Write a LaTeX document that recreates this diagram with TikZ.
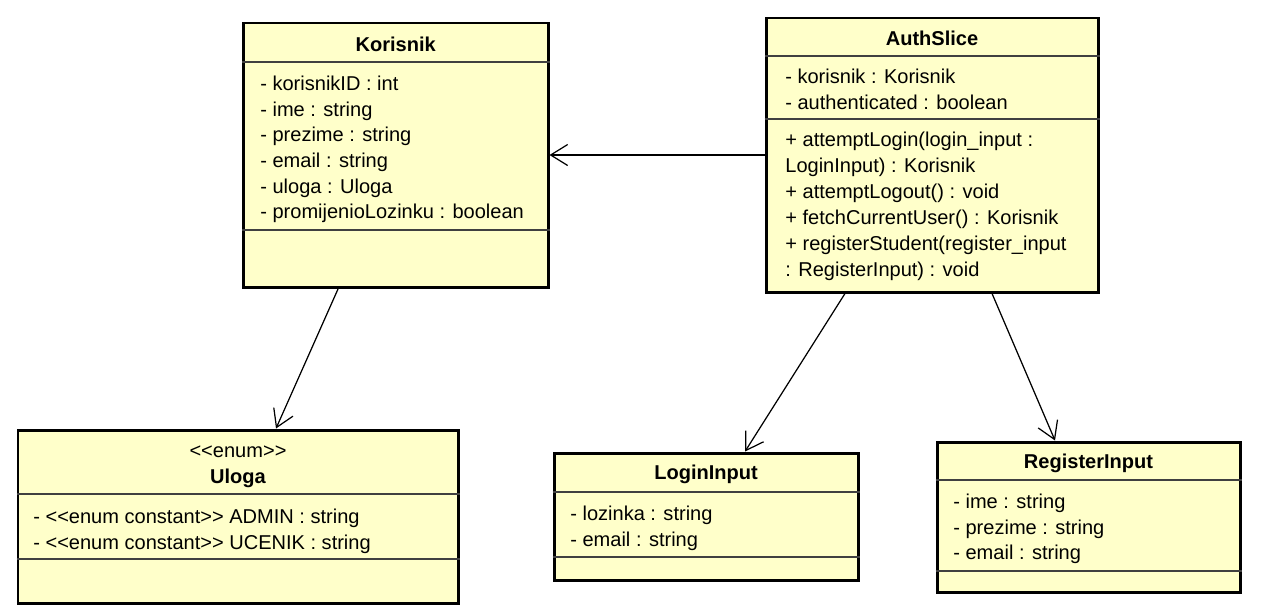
\documentclass[tikz,border=0pt]{standalone}
\usepackage{fontspec}
\setmainfont{Liberation Sans}
\usepackage{tikz}
\usepackage{color}
\usetikzlibrary{arrows.meta}
\usetikzlibrary{positioning,calc}
\definecolor{umlFill}{RGB}{255,255,202}
\tikzset{classBox/.style={rectangle,draw,line width=1.7pt,fill=umlFill,inner sep=0pt},
		classTitle/.style={inner sep=0pt,font=\fontsize{11.4}{14.6}\selectfont\bfseries},
		classStereo/.style={inner sep=0pt,font=\fontsize{11.4}{14.6}\selectfont},
		classText/.style={inner sep=0pt,anchor=north west,align=left,font=\fontsize{11.4}{14.6}\selectfont},
		classTextWide/.style={classText,font=\fontsize{11.4}{14.75}\selectfont},
		sepLine/.style={line width=0.6pt,color=black!75},
		assoc/.style={-{Straight Barb[length=3.4mm,width=4.2mm]},line width=0.7pt}}

\begin{document}
\begin{tikzpicture}[x=0.2mm,y=-0.2mm]
		\useasboundingbox (0,0) rectangle (1262,614);
		% class boxes
		\node at (395.75,155) [classBox,minimum width=6.09cm,minimum height=5.28cm] (Kor){};
		\node at (932,155) [classBox,minimum width=6.64cm,minimum height=5.48cm] (Auth){};
		\node at (238,516.5) [classBox,minimum width=8.8cm,minimum height=3.46cm] (Ulo){};
		\node at (706,516.5) [classBox,minimum width=6.08cm,minimum height=2.54cm] (Login){};
		\node at (1088.5,517) [classBox,minimum width=6.06cm,minimum height=3cm] (Reg){};

		% compartments
		\draw[sepLine] (Kor.west |- 0,62) -- (Kor.east |- 0,62);
		\draw[sepLine] (Kor.west |- 0,230) -- (Kor.east |- 0,230);
		\draw[sepLine] (Auth.west |- 0,56) -- (Auth.east |- 0,56);
		\draw[sepLine] (Auth.west |- 0,119) -- (Auth.east |- 0,119);
		\draw[sepLine] (Ulo.west |- 0,494) -- (Ulo.east |- 0,494);
		\draw[sepLine] (Ulo.west |- 0,559) -- (Ulo.east |- 0,559);
		\draw[sepLine] (Login.west |- 0,492) -- (Login.east |- 0,492);
		\draw[sepLine] (Login.west |- 0,557) -- (Login.east |- 0,557);
		\draw[sepLine] (Reg.west |- 0,480) -- (Reg.east |- 0,480);
		\draw[sepLine] (Reg.west |- 0,571) -- (Reg.east |- 0,571);

		% names and members
		\node at (395.75,44) [classTitle] (KorT){Korisnik};
		\node at (260,75.5) [classText] (KorA){- korisnikID : int\\- ime : string\\- prezime : string\\- email : string\\- uloga : Uloga\\- promijenioLozinku : boolean};
		\node at (932,38) [classTitle] (AuthT){AuthSlice};
		\node at (785,68.5) [classText] (AuthA){- korisnik : Korisnik\\- authenticated : boolean};
		\node at (785,132) [classTextWide] (AuthO){+ attemptLogin(login\_input :\\LoginInput) : Korisnik\\+ attemptLogout() : void\\+ fetchCurrentUser() : Korisnik\\+ registerStudent(register\_input\\: RegisterInput) : void};
		\node at (238,452) [classStereo] (UloS){<{}<enum>{}>};
		\node at (238,478) [classTitle] (UloT){Uloga};
		\node at (33,508.5) [classText] (UloA){- <{}<enum constant>{}> ADMIN : string\\- <{}<enum constant>{}> UCENIK : string};
		\node at (706,474) [classTitle] (LoginT){LoginInput};
		\node at (570,505.5) [classText] (LoginA){- lozinka : string\\- email : string};
		\node at (1088.5,463) [classTitle] (RegT){RegisterInput};
		\node at (953,493.5) [classText] (RegA){- ime : string\\- prezime : string\\- email : string};

		% associations
		\draw (Auth.west) edge[assoc] (Kor.east);
		\draw ([xshift=-1.15cm]Kor.south) edge[assoc] ([xshift=0.76cm]Ulo.north);
		\draw ([xshift=-1.74cm]Auth.south) edge[assoc] ([xshift=0.78cm]Login.north);
		\draw ([xshift=1.2cm]Auth.south) edge[assoc] ([xshift=-0.67cm]Reg.north);
\end{tikzpicture}
\end{document}
